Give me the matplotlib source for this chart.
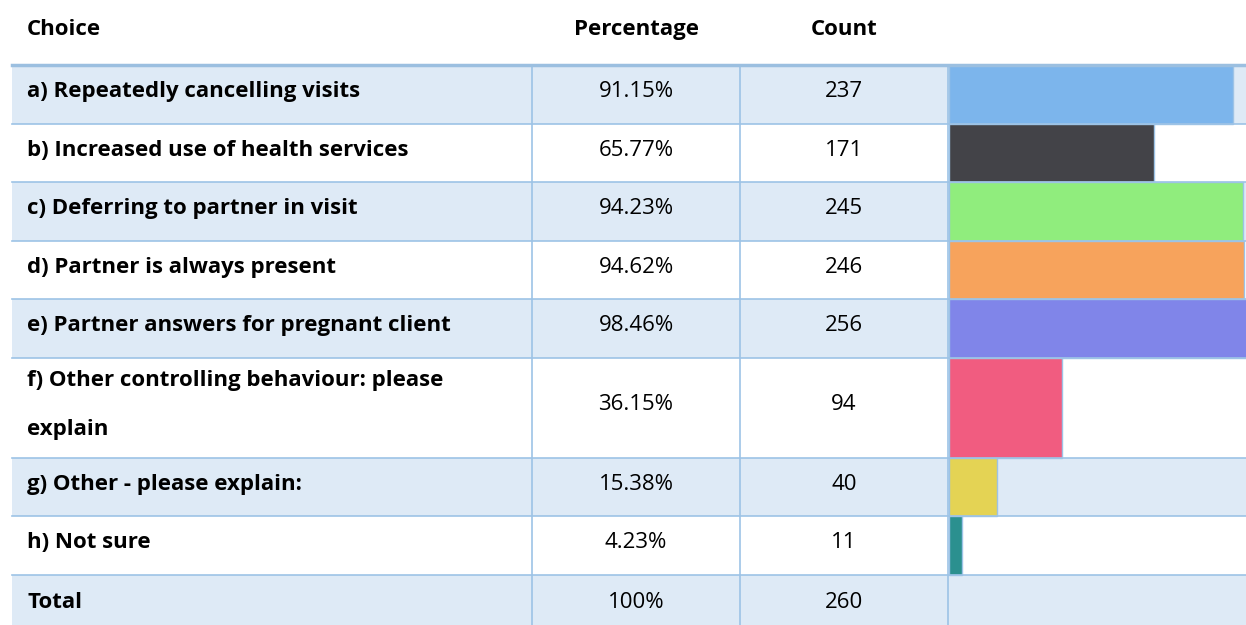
import matplotlib
matplotlib.use("Agg")
import matplotlib.pyplot as plt

# table data
choices = [
    "a) Repeatedly cancelling visits",
    "b) Increased use of health services",
    "c) Deferring to partner in visit",
    "d) Partner is always present",
    "e) Partner answers for pregnant client",
    "f) Other controlling behaviour: please\nexplain",
    "g) Other - please explain:",
    "h) Not sure",
]
percentages = [91.15, 65.77, 94.23, 94.62, 98.46, 36.15, 15.38, 4.23]
counts = [237, 171, 245, 246, 256, 94, 40, 11]
total_pct = "100%"
total_count = 260
bar_colors = ["#7cb5ec", "#434348", "#90ed7d", "#f7a35c",
              "#8085e9", "#f15c80", "#e4d354", "#2b908f"]

W, H = 1246, 625
FILL = "#deeaf6"
LINE = "#9dc3e6"
FONT = "Open Sans"
FS = 16
LINE_STEP = 49  # px between wrapped label lines

fig = plt.figure(figsize=(W / 100, H / 100), dpi=100)
ax = fig.add_axes([0, 0, 1, 1])
ax.set_xlim(0, W)
ax.set_ylim(H, 0)
ax.axis("off")

x_left, x_pct, x_cnt, x_bar, x_right = 12, 532, 740, 948, W
px_per_pct = 3.116

# row geometry
labels = choices + ["Total"]
heights = [17 + 41.5 * (lab.count("\n") + 1) for lab in labels]
heights[-1] = 60
tops = [65]
for h in heights[:-1]:
    tops.append(tops[-1] + h)

# header
hy = 35
ax.text(x_left + 15, hy, "Choice", fontsize=FS, fontweight="bold",
        family=FONT, va="baseline", ha="left")
ax.text((x_pct + x_cnt) / 2, hy, "Percentage", fontsize=FS, fontweight="bold",
        family=FONT, va="baseline", ha="center")
ax.text((x_cnt + x_bar) / 2, hy, "Count", fontsize=FS, fontweight="bold",
        family=FONT, va="baseline", ha="center")

for i, (lab, top, h) in enumerate(zip(labels, tops, heights)):
    if i % 2 == 0:
        ax.add_patch(plt.Rectangle((x_left, top), x_right - x_left, h,
                                   facecolor=FILL, edgecolor="none", zorder=0))
    ax.plot([x_left, x_right], [top + h, top + h], color=LINE, lw=1.2, zorder=3)
    base = top + h / 2 + 3
    parts = lab.split("\n")
    first = base - (len(parts) - 1) * LINE_STEP / 2
    for k, part in enumerate(parts):
        ax.text(x_left + 15, first + k * LINE_STEP, part, fontsize=FS,
                fontweight="bold", family=FONT, va="baseline", ha="left")
    if i < len(choices):
        pct_txt = f"{percentages[i]:.2f}%"
        cnt_txt = str(counts[i])
    else:
        pct_txt = total_pct
        cnt_txt = str(total_count)
    ax.text((x_pct + x_cnt) / 2, base, pct_txt, fontsize=FS, family=FONT,
            va="baseline", ha="center")
    ax.text((x_cnt + x_bar) / 2, base, cnt_txt, fontsize=FS, family=FONT,
            va="baseline", ha="center")

# bars
centers = [t + h / 2 for t, h in zip(tops, heights)][:len(choices)]
bar_h = heights[:len(choices)]
ax.barh(centers, [p * px_per_pct for p in percentages], height=bar_h,
        left=x_bar + 1, color=bar_colors, edgecolor=LINE, linewidth=1, zorder=2)

# header border and column dividers
ax.plot([x_left, x_right], [65, 65], color="#9bbfe0", lw=2.5, zorder=4)
for x in (x_pct, x_cnt, x_bar):
    ax.plot([x, x], [65, H], color=LINE, lw=1.2, zorder=3)

fig.savefig("out.png", dpi=100)
